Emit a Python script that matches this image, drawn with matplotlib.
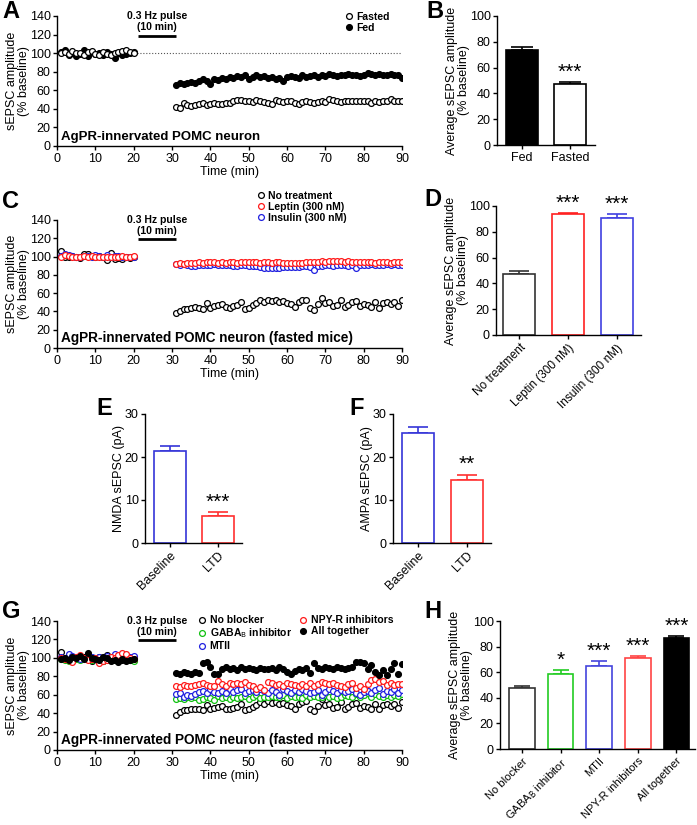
import numpy as np
import matplotlib
matplotlib.use('Agg')
import matplotlib.pyplot as plt

plt.rcParams['font.family'] = ['Liberation Sans', 'DejaVu Sans']
plt.rcParams['font.size'] = 9
plt.rcParams['axes.linewidth'] = 1.0
plt.rcParams['xtick.major.width'] = 1.0
plt.rcParams['ytick.major.width'] = 1.0
plt.rcParams['xtick.major.size'] = 3
plt.rcParams['ytick.major.size'] = 3
plt.rcParams['xtick.major.pad'] = 2
plt.rcParams['ytick.major.pad'] = 1.5

# -----------------------------------------------------------------------------
# time course data (minutes 1-20 baseline, 31-90 after the pulse)

t_base = list(range(1, 21))
t_post = list(range(31, 91))

a_fed_base = [101, 103, 98, 100, 97, 99, 103, 97, 101, 99, 100, 98, 101, 99, 95, 100, 98, 99, 100, 101]
a_fasted_base = [100, 101, 99, 102, 100, 100, 98, 101, 102, 99, 98, 101, 99, 98, 100, 101, 102, 103, 101, 100]
a_fed_post = [66, 68, 67, 68, 69, 68, 70, 72, 70, 67,
              72, 71, 73, 72, 74, 73, 75, 74, 76, 72,
              74, 77, 74, 75, 73, 74, 72, 73, 70, 74,
              75, 74, 73, 76, 74, 75, 76, 74, 77, 75,
              78, 76, 75, 77, 76, 78, 76, 77, 75, 76,
              79, 78, 77, 78, 76, 77, 78, 76, 77, 73]
a_fasted_post = [42, 41, 46, 44, 43, 44, 45, 46, 44, 45,
                 46, 45, 45, 46, 46, 48, 50, 50, 48, 49,
                 47, 50, 48, 47, 46, 45, 50, 48, 47, 48,
                 48, 46, 45, 47, 48, 47, 46, 47, 48, 47,
                 51, 50, 48, 47, 48, 48, 49, 48, 49, 48,
                 49, 46, 49, 47, 48, 48, 51, 48, 49, 49]

c_none_base = [106, 100, 99, 101, 99, 98, 103, 103, 101, 100, 101, 100, 96, 104, 97, 98, 97, 99, 98, 100]
c_leptin_base = [100, 102, 101, 100, 99, 100, 101, 100, 101, 100, 99, 100, 100, 99, 100, 100, 101, 100, 99, 101]
c_insulin_base = [101, 103, 102, 101, 100, 100, 101, 101, 100, 102, 101, 99, 102, 100, 101, 101, 100, 99, 100, 100]
c_none_post = [38, 41, 43, 43, 44, 45, 44, 43, 49, 44,
               46, 47, 48, 45, 44, 46, 47, 50, 43, 44,
               47, 49, 52, 50, 53, 51, 52, 50, 51, 49,
               48, 45, 50, 52, 53, 44, 42, 48, 55, 49,
               50, 46, 47, 52, 45, 47, 50, 51, 46, 48,
               47, 45, 50, 44, 49, 50, 48, 50, 46, 52]
c_leptin_post = [92, 93, 92, 93, 93, 93, 94, 93, 94, 94,
                 94, 93, 94, 93, 94, 94, 93, 94, 94, 94,
                 94, 94, 93, 94, 94, 93, 94, 94, 93, 93,
                 93, 93, 93, 93, 94, 94, 94, 94, 95, 94,
                 95, 95, 95, 95, 94, 95, 94, 94, 94, 94,
                 94, 94, 93, 94, 94, 94, 93, 94, 94, 94]
c_insulin_post = [92, 91, 92, 91, 90, 90, 91, 91, 91, 91,
                  92, 91, 91, 91, 91, 90, 90, 91, 91, 90,
                  90, 90, 89, 88, 88, 88, 88, 88, 89, 89,
                  89, 89, 89, 90, 90, 89, 85, 90, 90, 91,
                  91, 90, 91, 91, 91, 90, 91, 88, 91, 91,
                  91, 92, 91, 91, 91, 92, 91, 92, 91, 91]

g_none_base = [106, 99, 98, 100, 99, 100, 101, 102, 97, 100, 101, 97, 103, 98, 98, 97, 98, 99, 98, 100]
g_gaba_base = [99, 98, 97, 100, 99, 98, 100, 101, 98, 99, 100, 97, 99, 101, 98, 100, 99, 100, 98, 97]
g_mtii_base = [101, 100, 104, 102, 101, 99, 100, 102, 101, 99, 101, 100, 102, 100, 104, 101, 100, 102, 101, 102]
g_npy_base = [100, 99, 98, 96, 101, 103, 100, 98, 99, 100, 94, 97, 98, 101, 100, 103, 105, 104, 100, 99]
g_all_base = [99, 100, 98, 101, 100, 102, 99, 105, 100, 99, 98, 101, 100, 97, 98, 96, 99, 97, 98, 99]
g_none_post = c_none_post
g_gaba_post = [55, 56, 55, 58, 56, 57, 54, 55, 58, 56,
               54, 59, 56, 57, 55, 58, 56, 57, 59, 55,
               58, 60, 56, 58, 57, 59, 58, 57, 60, 56,
               59, 57, 58, 56, 60, 58, 59, 57, 58, 60,
               57, 59, 56, 58, 60, 59, 57, 61, 58, 60,
               62, 58, 61, 59, 57, 60, 58, 60, 59, 61]
g_mtii_post = [61, 62, 58, 60, 59, 61, 63, 64, 62, 66,
               63, 62, 64, 62, 66, 63, 65, 66, 62, 64,
               65, 63, 66, 64, 62, 65, 63, 60, 66, 64,
               62, 65, 63, 66, 64, 62, 63, 65, 60, 63,
               66, 64, 62, 65, 63, 64, 66, 62, 60, 63,
               64, 62, 65, 67, 61, 64, 63, 66, 62, 65]
g_npy_post = [69, 68, 71, 70, 70, 71, 72, 73, 71, 70,
              69, 75, 72, 70, 73, 72, 73, 72, 74, 71,
              70, 66, 68, 65, 74, 73, 71, 72, 70, 73,
              72, 71, 70, 72, 69, 73, 70, 72, 74, 73,
              72, 73, 71, 70, 68, 72, 73, 67, 69, 66,
              72, 76, 77, 74, 75, 71, 73, 71, 72, 72]
g_all_post = [84, 83, 85, 84, 83, 85, 84, 94, 95, 90,
              82, 82, 88, 90, 88, 89, 87, 90, 88, 89,
              88, 87, 89, 88, 88, 89, 87, 90, 88, 85,
              82, 86, 88, 87, 89, 84, 94, 89, 88, 90,
              89, 88, 90, 89, 88, 89, 90, 96, 95, 94,
              88, 92, 85, 81, 87, 81, 88, 94, 83, 93]

# -----------------------------------------------------------------------------
# bar data

b_labels = ['Fed', 'Fasted']
b_means = [74, 47]
b_sems = [1.8, 1.5]

d_labels = ['No treatment', 'Leptin (300 nM)', 'Insulin (300 nM)']
d_means = [47.5, 93.5, 90.5]
d_sems = [2.5, 1.0, 3.0]

e_labels = ['Baseline', 'LTD']
e_means = [21.5, 6.3]
e_sems = [1.0, 0.8]

f_labels = ['Baseline', 'LTD']
f_means = [25.5, 14.7]
f_sems = [1.5, 1.2]

h_labels = ['No blocker', 'GABA$_\\mathrm{B}$ inhibitor', 'MTII', 'NPY-R inhibitors', 'All together']
h_means = [47.5, 58.5, 65.0, 70.8, 87.0]
h_sems = [2.0, 3.0, 3.5, 1.8, 1.0]

# -----------------------------------------------------------------------------

W, H = 697, 825
fig = plt.figure(figsize=(W / 100, H / 100), dpi=100)


def box(l, t, r, b):
    return [l / W, 1 - b / H, (r - l) / W, (b - t) / H]


def clean(ax):
    for s in ['top', 'right']:
        ax.spines[s].set_visible(False)


def series(ax, base, post, color, filled, label, err=1.5):
    fc = color if filled else 'white'
    for i, (x, y) in enumerate([(t_base, base), (t_post, post)]):
        ax.errorbar(x, y, yerr=[np.zeros(len(y)), np.full(len(y), err)],
                    fmt='none', ecolor=color, elinewidth=0.8, capsize=1.5, capthick=0.8)
        ax.plot(x, y, 'o', mfc=fc, mec=color, ms=4.2, mew=0.9,
                label=label if i == 0 else None)


def time_axes(ax, title, tsize=9.5):
    clean(ax)
    ax.set_xlim(0, 90)
    ax.set_ylim(0, 140)
    ax.set_xticks(range(0, 91, 10))
    ax.set_yticks(range(0, 141, 20))
    ax.set_xlabel('Time (min)', labelpad=1)
    ax.set_ylabel('sEPSC amplitude\n(% baseline)', labelpad=0, linespacing=1.0)
    ax.text(1, 3, title, fontsize=tsize, fontweight='bold', va='bottom')
    ax.text(26, 140, '0.3 Hz pulse', fontsize=7.5, fontweight='bold', ha='center', va='center')
    ax.text(26, 128, '(10 min)', fontsize=7.5, fontweight='bold', ha='center', va='center')
    ax.plot([21, 31], [119, 119], color='black', lw=2, solid_capstyle='butt')


def bars(ax, means, sems, labels, edges, fills, ymax, step, ylabel, stars,
         rot=True, cap=7, tsize=9):
    clean(ax)
    x = np.arange(len(means))
    ax.bar(x, means, width=0.66, color=fills, edgecolor=edges, linewidth=1.2, zorder=2)
    for xi, m, s, c in zip(x, means, sems, edges):
        ax.errorbar([xi], [m], yerr=[[0], [s]], fmt='none', ecolor=c,
                    elinewidth=1.2, capsize=cap, capthick=1.2, zorder=1)
    for xi, m, s, st in zip(x, means, sems, stars):
        if st:
            ax.text(xi, m + s + ymax * 0.005, st, ha='center', va='bottom', fontsize=15)
    ax.set_ylim(0, ymax)
    ax.set_yticks(np.arange(0, ymax + 0.1, step))
    ax.set_xticks(x)
    if rot:
        ax.set_xticklabels(labels, rotation=45, ha='right', rotation_mode='anchor', fontsize=tsize)
    else:
        ax.set_xticklabels(labels, fontsize=tsize)
    ax.set_ylabel(ylabel, labelpad=0, linespacing=1.0)


def letter(x, y, s):
    fig.text(x / W, 1 - y / H, s, fontsize=17, fontweight='bold', va='top', ha='left')


leg_kw = dict(frameon=False, handletextpad=0.2, labelspacing=0.1, borderpad=0.1,
              handlelength=1.0, prop={'weight': 'bold', 'size': 7.5}, borderaxespad=0.1)

# ---------------- A
ax = fig.add_axes(box(57, 16, 402, 146))
series(ax, a_fed_base, a_fed_post, 'black', True, 'Fed')
series(ax, a_fasted_base, a_fasted_post, 'black', False, 'Fasted')
ax.plot([20, 90], [100, 100], ls=':', color='#555555', lw=0.8, zorder=0)
time_axes(ax, 'AgPR-innervated POMC neuron')
h, l = ax.get_legend_handles_labels()
ax.legend(h[::-1], l[::-1], loc='upper right', bbox_to_anchor=(0.97, 1.05), **leg_kw)

# ---------------- B
ax = fig.add_axes(box(497, 16, 595, 145))
bars(ax, b_means, b_sems, b_labels, ['black', 'black'], ['black', 'white'], 100, 20,
     'Average sEPSC amplitude\n(% baseline)', ['', '***'], rot=False, cap=8)
ax.set_xlim(-0.52, 1.52)

# ---------------- C
ax = fig.add_axes(box(57, 220, 402, 348))
series(ax, c_none_base, c_none_post, 'black', False, 'No treatment')
series(ax, c_insulin_base, c_insulin_post, '#2020e0', False, 'Insulin (300 nM)')
series(ax, c_leptin_base, c_leptin_post, '#ff1a1a', False, 'Leptin (300 nM)')
time_axes(ax, 'AgPR-innervated POMC neuron (fasted mice)', 9.8)
h, l = ax.get_legend_handles_labels()
ax.legend([h[0], h[2], h[1]], [l[0], l[2], l[1]], loc='lower left',
          bbox_to_anchor=(0.57, 0.96), **leg_kw)

# ---------------- D
ax = fig.add_axes(box(496, 206, 641, 335))
bars(ax, d_means, d_sems, d_labels, ['#333333', '#ff2020', '#4040e0'], ['white'] * 3, 100, 20,
     'Average sEPSC amplitude\n(% baseline)', ['', '***', '***'], tsize=8.5)
ax.set_xlim(-0.48, 2.5)

# ---------------- E
ax = fig.add_axes(box(145, 414, 242, 543))
bars(ax, e_means, e_sems, e_labels, ['#3535d8', '#ff3030'], ['white'] * 2, 30, 10,
     'NMDA sEPSC (pA)', ['', '***'])
ax.set_xlim(-0.52, 1.5)

# ---------------- F
ax = fig.add_axes(box(393, 414, 491, 543))
bars(ax, f_means, f_sems, f_labels, ['#3535d8', '#ff3030'], ['white'] * 2, 30, 10,
     'AMPA sEPSC (pA)', ['', '**'])
ax.set_xlim(-0.52, 1.5)

# ---------------- G
ax = fig.add_axes(box(57, 621, 402, 750))
series(ax, g_none_base, g_none_post, 'black', False, 'No blocker')
series(ax, g_gaba_base, g_gaba_post, '#10c010', False, 'GABA$_\\mathrm{B}$ inhibitor')
series(ax, g_mtii_base, g_mtii_post, '#2020e0', False, 'MTII')
series(ax, g_npy_base, g_npy_post, '#ff1a1a', False, 'NPY-R inhibitors')
series(ax, g_all_base, g_all_post, 'black', True, 'All together')
time_axes(ax, 'AgPR-innervated POMC neuron (fasted mice)', 9.8)
ax.legend(loc='upper left', bbox_to_anchor=(0.40, 1.06), ncol=2, columnspacing=0.6, **leg_kw)

# ---------------- H
ax = fig.add_axes(box(500, 621, 695, 749))
bars(ax, h_means, h_sems, h_labels, ['#333333', '#22cc22', '#4444dd', '#ff4444', 'black'],
     ['white'] * 4 + ['black'], 100, 20, 'Average sEPSC amplitude\n(% baseline)',
     ['', '*', '***', '***', '***'], cap=6, tsize=8)
ax.set_xlim(-0.57, 4.48)

letter(2, 0, 'A')
letter(426, 0, 'B')
letter(2, 190, 'C')
letter(424, 188, 'D')
letter(96, 397, 'E')
letter(349, 397, 'F')
letter(2, 600, 'G')
letter(424, 600, 'H')

fig.savefig('out.png', dpi=100)
